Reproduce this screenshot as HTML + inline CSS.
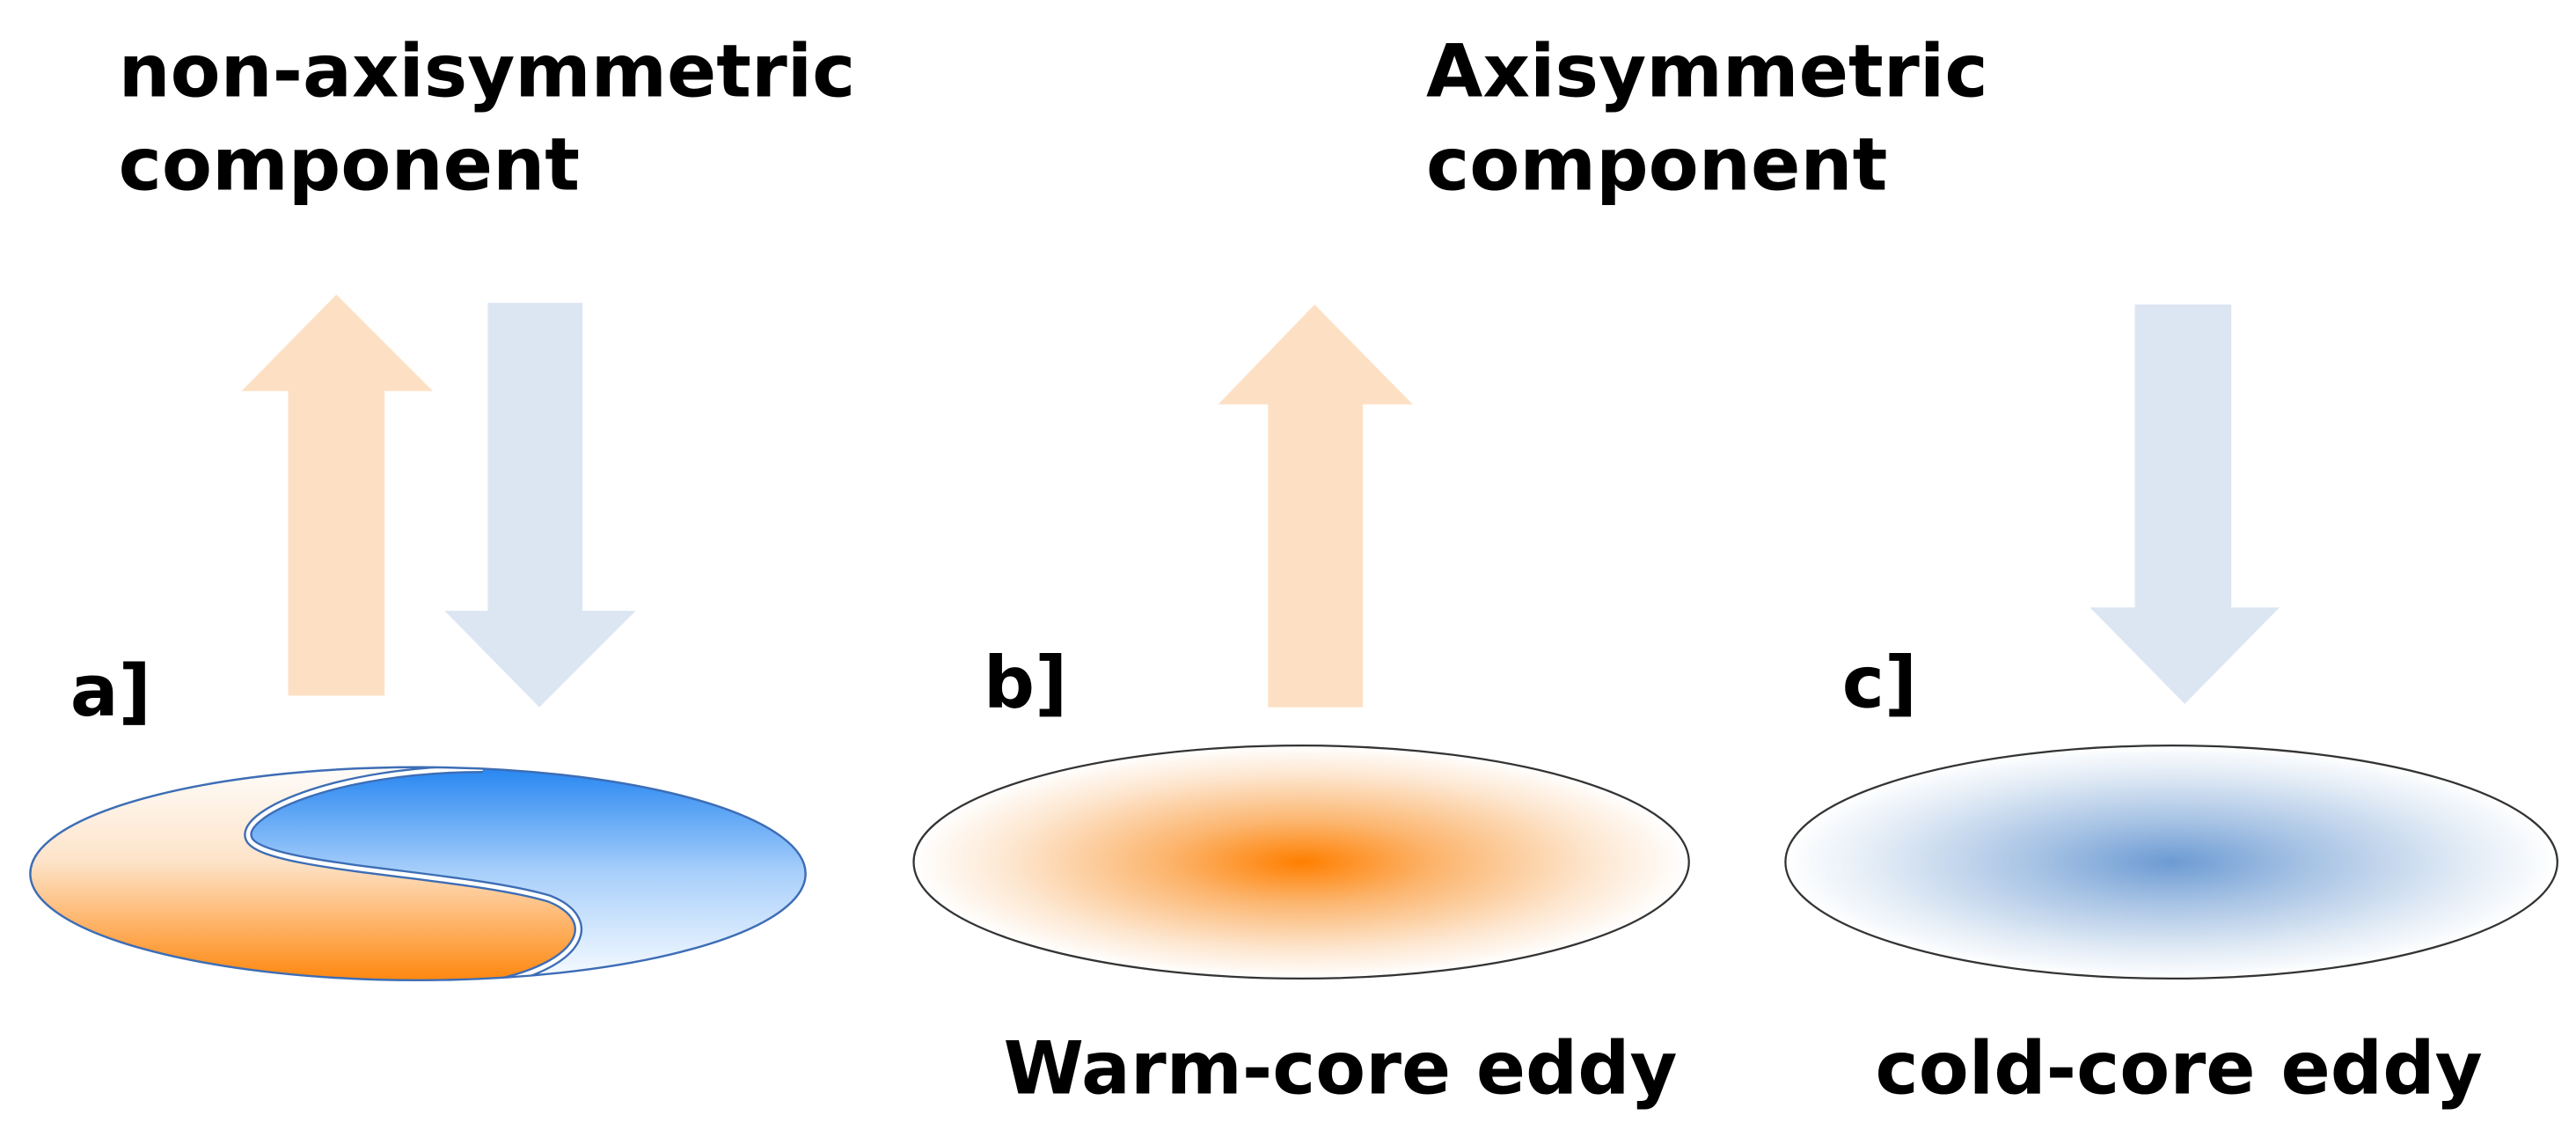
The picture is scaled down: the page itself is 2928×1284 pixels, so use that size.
<!DOCTYPE html>
<html><head><meta charset="utf-8"><style>
html,body{margin:0;padding:0;background:#fff;}
svg{display:block;}
text{font-family:"DejaVu Sans","Liberation Sans",sans-serif;font-weight:bold;fill:#000;}
</style></head><body>
<svg width="2928" height="1284" viewBox="0 0 1548 679" xmlns="http://www.w3.org/2000/svg">
<defs>
<radialGradient id="warm" cx="0.5" cy="0.5" r="0.5">
<stop offset="0" stop-color="#ff7f00"/>
<stop offset="0.35" stop-color="#fcb56e"/>
<stop offset="0.75" stop-color="#fde6cf"/>
<stop offset="1" stop-color="#ffffff"/>
</radialGradient>
<radialGradient id="cold" cx="0.5" cy="0.5" r="0.5">
<stop offset="0" stop-color="#6c9bd3"/>
<stop offset="0.35" stop-color="#a6c2e4"/>
<stop offset="0.75" stop-color="#e0eaf5"/>
<stop offset="1" stop-color="#ffffff"/>
</radialGradient>
<linearGradient id="og" x1="0" y1="0" x2="0" y2="1">
<stop offset="0" stop-color="#ffffff"/>
<stop offset="0.45" stop-color="#fde3c8"/>
<stop offset="1" stop-color="#ff8000"/>
</linearGradient>
<linearGradient id="bg" x1="0" y1="0" x2="0" y2="1">
<stop offset="0" stop-color="#1a7ff0"/>
<stop offset="0.5" stop-color="#a9d0fb"/>
<stop offset="1" stop-color="#ffffff"/>
</linearGradient>
<clipPath id="ea"><ellipse cx="251" cy="525" rx="233" ry="64"/></clipPath>
</defs>

<text x="71" y="58" font-size="44" textLength="443" lengthAdjust="spacingAndGlyphs">non-axisymmetric</text>
<text x="71" y="114" font-size="44">component</text>
<text x="857" y="58" font-size="44">Axisymmetric</text>
<text x="857" y="114" font-size="44">component</text>

<polygon points="202,177 260,235 231,235 231,418 173,418 173,235 145,235" fill="#fde0c4"/>
<polygon points="293,182 350,182 350,367 382,367 324,425 267,367 293,367" fill="#dce6f2"/>
<polygon points="790,183 849,243 819,243 819,425 762,425 762,243 732,243" fill="#fde0c4"/>
<polygon points="1283,183 1341,183 1341,365 1370,365 1313,423 1256,365 1283,365" fill="#dce6f2"/>

<text x="42" y="430" font-size="43">a]</text>
<text x="591" y="425" font-size="43">b]</text>
<text x="1107" y="425" font-size="43">c]</text>

<g clip-path="url(#ea)">
<rect x="0" y="455" width="500" height="140" fill="url(#og)"/>
<path d="M290,462 C200,462 140,490 150,505 C162,522 280,525 330,540 C360,552 352,578 300,590 L520,595 L520,455 Z" fill="url(#bg)"/>
<path d="M290,462 C200,462 140,490 150,505 C162,522 280,525 330,540 C360,552 352,578 300,590" fill="none" stroke="#3d6db5" stroke-width="5"/>
<path d="M290,462 C200,462 140,490 150,505 C162,522 280,525 330,540 C360,552 352,578 300,590" fill="none" stroke="#ffffff" stroke-width="2.5"/>
</g>
<ellipse cx="251" cy="525" rx="233" ry="64" fill="none" stroke="#3d6db5" stroke-width="1.3"/>

<ellipse cx="782" cy="518" rx="233" ry="70" fill="url(#warm)" stroke="#333" stroke-width="1.2"/>
<ellipse cx="1305" cy="518" rx="232" ry="70" fill="url(#cold)" stroke="#333" stroke-width="1.2"/>

<text x="603" y="657" font-size="44" textLength="405" lengthAdjust="spacingAndGlyphs">Warm-core eddy</text>
<text x="1127" y="657" font-size="44" textLength="365" lengthAdjust="spacingAndGlyphs">cold-core eddy</text>
</svg>
</body></html>
